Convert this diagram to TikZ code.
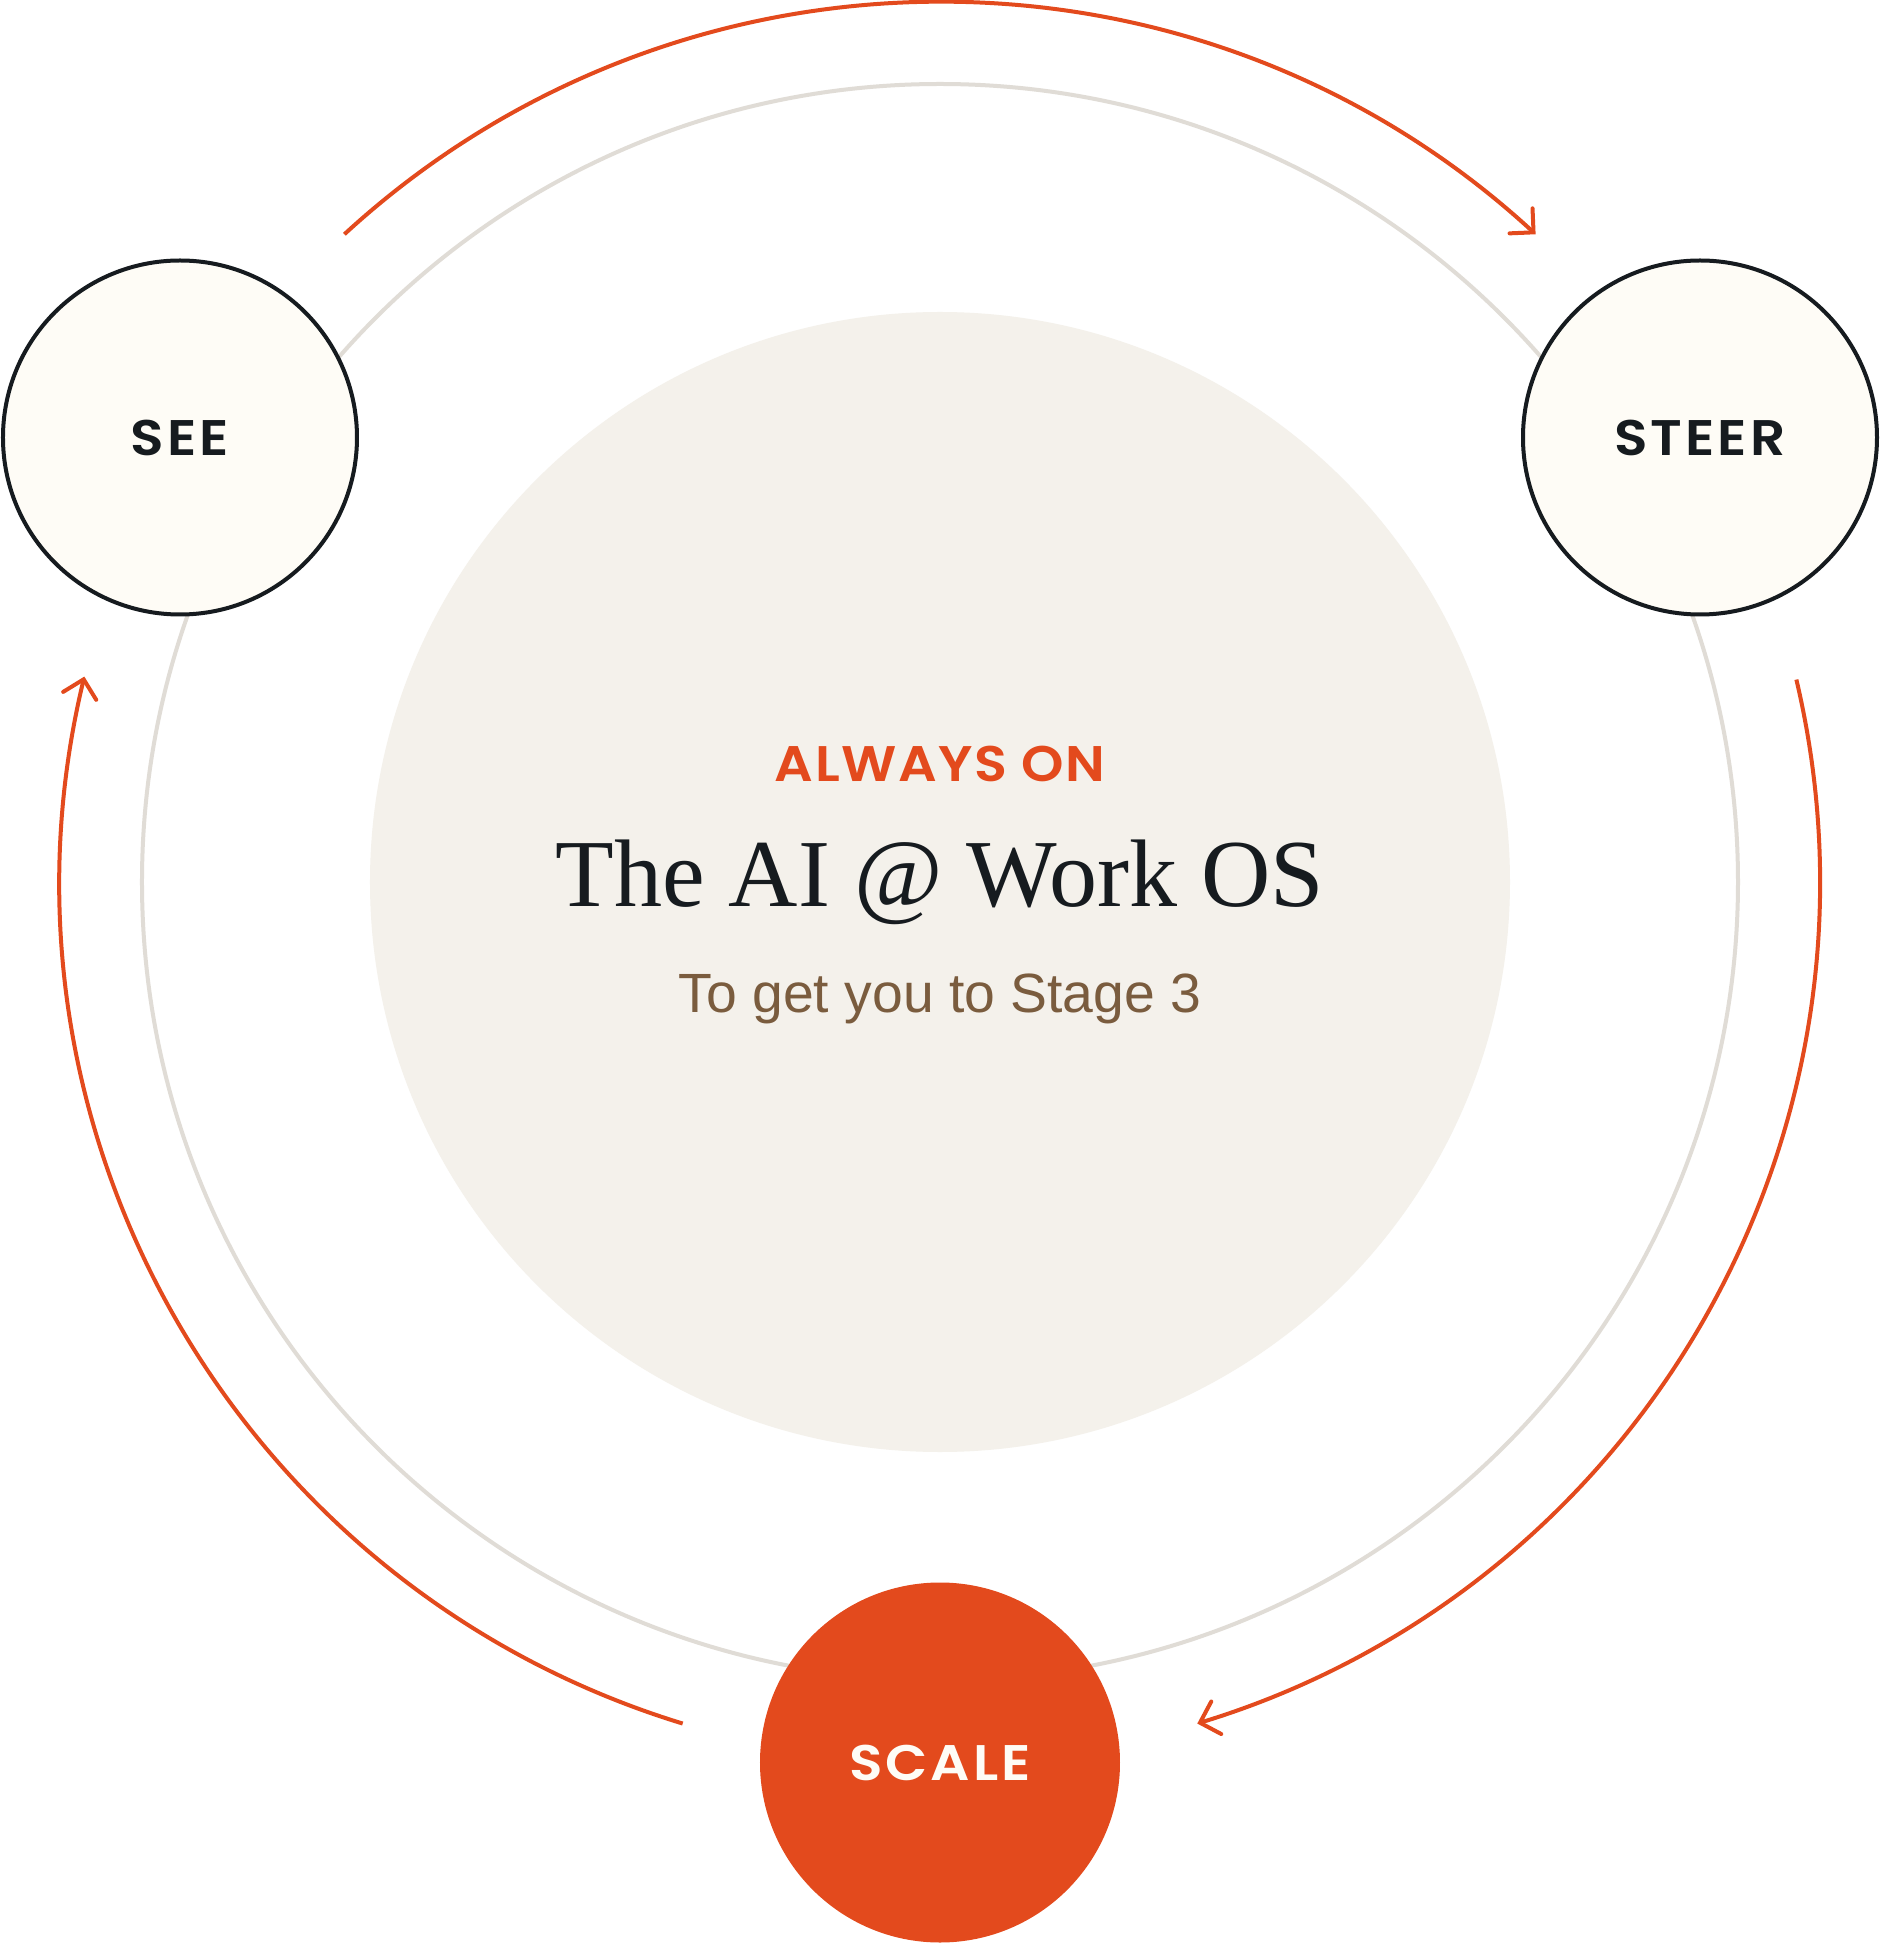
\documentclass[tikz,border=0pt]{standalone}
\usepackage{fontspec}
\usetikzlibrary{arrows.meta}
\newfontfamily\labelfont{Poppins SemiBold}[FakeStretch=1.1, LetterSpace=6]
\newfontfamily\kickerfont{Poppins SemiBold}[FakeStretch=1.08, LetterSpace=3]
\newfontfamily\titlefont{Liberation Serif}
\newfontfamily\subfont{Liberation Sans}
\definecolor{orangec}{HTML}{E34A1D}
\definecolor{inkc}{HTML}{161B1F}
\definecolor{creamc}{HTML}{FEFCF6}
\definecolor{corec}{HTML}{F4F1EB}
\definecolor{ringc}{HTML}{E0DCD6}
\definecolor{brownc}{HTML}{7A5C3E}
\tikzset{
  x=1pt, y=1pt,
  ring/.style={draw=ringc, line width=4pt},
  core/.style={circle, fill=corec, minimum size=1140pt, inner sep=0pt},
  flow/.style={draw=orangec, line width=4pt, -{Straight Barb[length=17pt, width=34pt, line cap=round]}},
  stage/.style={circle, draw=inkc, line width=4pt, fill=creamc, minimum size=354pt, inner sep=0pt,
    text=inkc, font=\labelfont\fontsize{50}{60}\selectfont},
  hotstage/.style={circle, fill=orangec, minimum size=360pt, inner sep=0pt,
    text=creamc, font=\labelfont\fontsize{50}{60}\selectfont},
  kicker/.style={text=orangec, font=\kickerfont\fontsize{50}{60}\selectfont, anchor=base, inner sep=0pt},
  title/.style={text=inkc, font=\titlefont\fontsize{96}{110}\selectfont, anchor=base, inner sep=0pt},
  subtitle/.style={text=brownc, font=\subfont\fontsize{55.3}{64}\selectfont, anchor=base, inner sep=0pt}
}
\begin{document}
\begin{tikzpicture}
\useasboundingbox (-940,-1061) rectangle (940,882);
\fill[white] (-940,-1061) rectangle (940,882);
% grey ring
\draw[ring] (0,0) circle[radius=798];
% core
\node[core] (core) at (0,0) {};
\node[kicker] (kick) at (0,100) {ALWAYS ON};
\node[title] (ttl) at (0,-24) {The AI @ Work OS};
\node[subtitle] (sub) at (0,-130) {To get you to Stage 3};
% flow arcs
\coordinate (a1s) at (132.6:880);
\coordinate (a2s) at (13.3:880);
\coordinate (a3s) at (-107:880);
\draw[flow] (a1s) arc[start angle=132.6, end angle=47.4, radius=880];
\draw[flow] (a2s) arc[start angle=13.3, end angle=-73, radius=880];
\draw[flow] (a3s) arc[start angle=253, end angle=166.5, radius=880];
% stages
\node[stage] (see) at (-760,444.5) {SEE};
\node[stage] (steer) at (760,444.5) {STEER};
\node[hotstage] (scale) at (0,-880.5) {SCALE};
\end{tikzpicture}
\end{document}
